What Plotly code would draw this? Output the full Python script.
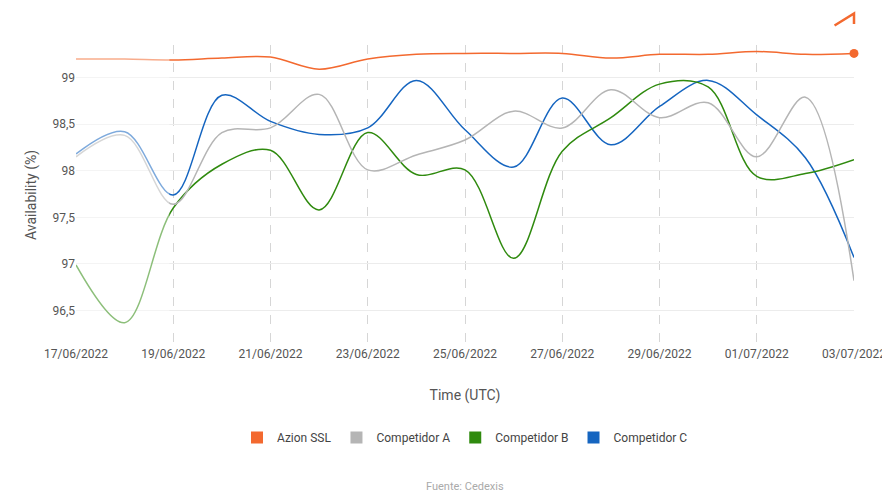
import plotly.graph_objects as go
import pandas as pd

dates = pd.date_range("2022-06-17", "2022-07-03", freq="D")
azion = [99.20, 99.20, 99.19, 99.21, 99.22, 99.09, 99.20, 99.25, 99.26, 99.26, 99.26, 99.21, 99.25, 99.25, 99.28, 99.25, 99.26]
comp_a = [98.15, 98.38, 97.64, 98.41, 98.46, 98.82, 98.01, 98.17, 98.33, 98.64, 98.46, 98.87, 98.57, 98.73, 98.15, 98.79, 96.82]
comp_b = [96.99, 96.37, 97.60, 98.07, 98.22, 97.58, 98.41, 97.96, 98.01, 97.06, 98.21, 98.57, 98.93, 98.90, 97.94, 97.97, 98.12]
comp_c = [98.18, 98.42, 97.74, 98.81, 98.53, 98.39, 98.46, 98.97, 98.44, 98.04, 98.78, 98.28, 98.69, 98.97, 98.60, 98.14, 97.07]

series = [("Azion SSL", azion, "#f3692f"), ("Competidor A", comp_a, "#b5b5b5"),
          ("Competidor B", comp_b, "#2f8a0e"), ("Competidor C", comp_c, "#1565c0")]

fig = go.Figure()
for name, vals, col in reversed(series):
    fig.add_trace(go.Scatter(x=dates, y=vals, name=name, mode="lines", showlegend=False,
                             line=dict(color=col, width=1.5, shape="spline", smoothing=1.0)))
for i, (name, vals, col) in enumerate(series):
    fig.add_trace(go.Scatter(x=[dates[0]], y=[None], mode="markers", name=name, legendrank=i + 1,
                             marker=dict(symbol="square", size=14, color=col), hoverinfo="skip"))
fig.add_trace(go.Scatter(x=[dates[-1]], y=[azion[-1]], mode="markers", showlegend=False,
                         marker=dict(color="#f3692f", size=9), cliponaxis=False))

fig.add_shape(type="rect", xref="paper", yref="paper", x0=0, x1=0.12, y0=0, y1=1,
              fillcolor="rgba(255,255,255,0.45)", line_width=0, layer="above")
fig.add_shape(type="path", xref="paper", yref="paper",
              path="M 0.975 1.065 L 1.0 1.105 L 1.0 1.07", line=dict(color="#f3692f", width=2.5))

fig.update_layout(
    width=890, height=500, paper_bgcolor="white", plot_bgcolor="white",
    margin=dict(l=68, r=44, t=37, b=163, autoexpand=False), separators=",.",
    font=dict(family="Roboto", size=12, color="#555"),
    xaxis=dict(range=[dates[0], dates[-1]], tickvals=dates[::2], tickformat="%d/%m/%Y",
               showgrid=True, gridcolor="#d6d6d6", griddash="dash", zeroline=False,
               title=dict(text="Time (UTC)", standoff=30), ticks="", showline=False,
               automargin=False, ticklabeloverflow="allow"),
    yaxis=dict(range=[96.13, 99.35], tickvals=[96.5, 97, 97.5, 98, 98.5, 99],
               gridcolor="#ececec", zeroline=False, automargin=False,
               title=dict(text="Availability (%)", standoff=12)),
    legend=dict(orientation="h", x=0.5, xanchor="center", y=-0.26, yanchor="top",
                font=dict(size=12, color="#444"), itemsizing="constant"),
)
fig.add_annotation(text="Fuente: Cedexis", xref="paper", yref="paper", x=0.5, y=-0.50,
                   showarrow=False, font=dict(size=11, color="#aaa"))
fig.write_html("out.html")
